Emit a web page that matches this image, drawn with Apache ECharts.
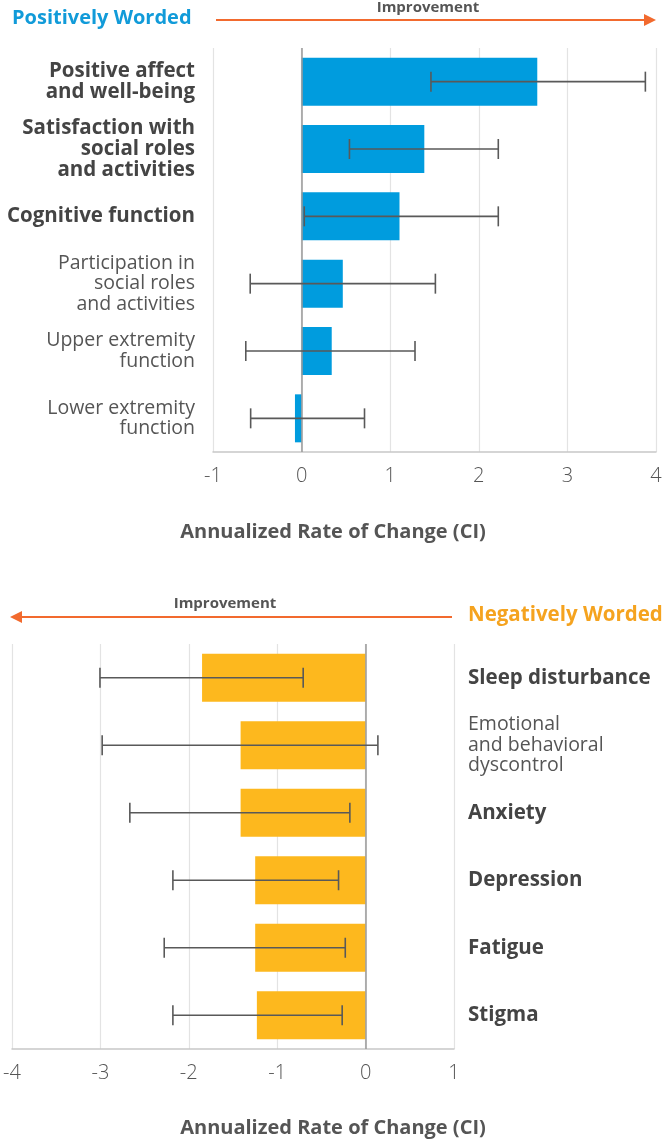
<!DOCTYPE html>
<html>
<head>
<meta charset="utf-8">
<script src="https://cdn.jsdelivr.net/npm/echarts@6/dist/echarts.min.js"></script>
<style>
html,body{margin:0;padding:0;background:#fff;}
#chart{width:671px;height:1148px;}
</style>
</head>
<body>
<div id="chart"></div>
<script>
// ---- Data ----
const posCategories = ['Positive affect\nand well-being', 'Satisfaction with\nsocial roles\nand activities', 'Cognitive function', 'Participation in\nsocial roles\nand activities', 'Upper extremity\nfunction', 'Lower extremity\nfunction'];
const posValues = [2.66, 1.385, 1.105, 0.465, 0.34, -0.075];
const posLow = [1.46, 0.54, 0.03, -0.58, -0.63, -0.575];
const posHigh = [3.88, 2.22, 2.22, 1.51, 1.28, 0.71];
const posTicks = [-1, 0, 1, 2, 3, 4];

const negCategories = ['Sleep disturbance', 'Emotional\nand behavioral\ndyscontrol', 'Anxiety', 'Depression', 'Fatigue', 'Stigma'];
const negValues = [-1.85, -1.414, -1.414, -1.249, -1.249, -1.23];
const negLow = [-3.005, -2.98, -2.667, -2.18, -2.278, -2.18];
const negHigh = [-0.706, 0.139, -0.178, -0.306, -0.23, -0.265];
const negTicks = [-4, -3, -2, -1, 0, 1];

// ---- Chart ----
const FONT = '"Open Sans", "Noto Sans", sans-serif';
const boldPos = new Set([0, 1, 2]);
const boldNeg = new Set([0, 2, 3, 4, 5]);

function richLabel(boldSet) {
  return function (value, idx) {
    const key = boldSet.has(idx) ? 'b' : 'r';
    return value.split('\n').map(l => '{' + key + '|' + l + '}').join('\n');
  };
}

function errRender(params, api) {
  const cat = api.value(0);
  const p1 = api.coord([api.value(1), cat]);
  const p2 = api.coord([api.value(2), cat]);
  const h = 10;
  const style = { stroke: '#595959', lineWidth: 1.6 };
  return {
    type: 'group',
    children: [
      { type: 'line', shape: { x1: p1[0], y1: p1[1], x2: p2[0], y2: p2[1] }, style },
      { type: 'line', shape: { x1: p1[0], y1: p1[1] - h, x2: p1[0], y2: p1[1] + h }, style },
      { type: 'line', shape: { x1: p2[0], y1: p2[1] - h, x2: p2[0], y2: p2[1] + h }, style }
    ]
  };
}

const catRich = {
  b: { fontFamily: FONT, fontSize: 20.5, fontWeight: 'bold', color: '#444', lineHeight: 21 },
  r: { fontFamily: FONT, fontSize: 19.5, fontWeight: 'normal', color: '#555', lineHeight: 20.5 }
};

function valueAxis(gridIndex, ticks) {
  return {
    type: 'value', gridIndex,
    min: ticks[0], max: ticks[ticks.length - 1], interval: 1,
    axisLine: { show: true, lineStyle: { color: '#c8c8c8', width: 1.5 } },
    axisTick: { show: false },
    splitLine: { show: true, lineStyle: { color: '#e3e3e3', width: 1.2 } },
    axisLabel: { fontFamily: FONT, fontSize: 20, fontWeight: 300, color: '#555', margin: 14 }
  };
}

const zeroLine = {
  silent: true, symbol: 'none', label: { show: false },
  lineStyle: { color: '#999', width: 1.5, type: 'solid' },
  data: [{ xAxis: 0 }]
};

const option = {
  animation: false,
  backgroundColor: '#fff',
  grid: [
    { left: 213, right: 15, top: 48, height: 404 },
    { left: 12, right: 217, top: 644, height: 405 }
  ],
  xAxis: [valueAxis(0, posTicks), valueAxis(1, negTicks)],
  yAxis: [
    {
      type: 'category', gridIndex: 0, data: posCategories, inverse: true,
      axisLine: { show: false }, axisTick: { show: false },
      axisLabel: { margin: 18, align: 'right', formatter: richLabel(boldPos), rich: catRich }
    },
    {
      type: 'category', gridIndex: 1, data: negCategories, inverse: true, position: 'right',
      axisLine: { show: false }, axisTick: { show: false },
      axisLabel: { margin: 14, align: 'left', formatter: richLabel(boldNeg), rich: catRich }
    }
  ],
  series: [
    {
      type: 'bar', xAxisIndex: 0, yAxisIndex: 0, data: posValues, barWidth: 48,
      itemStyle: { color: '#009cde' }, markLine: zeroLine, z: 2
    },
    {
      type: 'custom', xAxisIndex: 0, yAxisIndex: 0, renderItem: errRender,
      encode: { x: [1, 2], y: 0 },
      data: posCategories.map((c, i) => [i, posLow[i], posHigh[i]]), z: 5
    },
    {
      type: 'bar', xAxisIndex: 1, yAxisIndex: 1, data: negValues, barWidth: 48,
      itemStyle: { color: '#fdb81e' }, markLine: zeroLine, z: 2
    },
    {
      type: 'custom', xAxisIndex: 1, yAxisIndex: 1, renderItem: errRender,
      encode: { x: [1, 2], y: 0 },
      data: negCategories.map((c, i) => [i, negLow[i], negHigh[i]]), z: 5
    }
  ],
  graphic: [
    { type: 'text', x: 12, y: 18, style: { text: 'Positively Worded', fontFamily: FONT, fontSize: 20, fontWeight: 'bold', fill: '#119bd9', verticalAlign: 'middle' } },
    { type: 'text', x: 428, y: 8, style: { text: 'Improvement', fontFamily: FONT, fontSize: 15, fontWeight: 'bold', fill: '#555', align: 'center', verticalAlign: 'middle' } },
    { type: 'line', shape: { x1: 216, y1: 20, x2: 646, y2: 20 }, style: { stroke: '#f26a2e', lineWidth: 2 } },
    { type: 'polygon', shape: { points: [[644, 14], [656, 20], [644, 26]] }, style: { fill: '#f26a2e' } },
    { type: 'text', x: 468, y: 615, style: { text: 'Negatively Worded', fontFamily: FONT, fontSize: 20.5, fontWeight: 'bold', fill: '#f5a31f', verticalAlign: 'middle' } },
    { type: 'text', x: 225, y: 604, style: { text: 'Improvement', fontFamily: FONT, fontSize: 15, fontWeight: 'bold', fill: '#555', align: 'center', verticalAlign: 'middle' } },
    { type: 'line', shape: { x1: 20, y1: 617, x2: 452, y2: 617 }, style: { stroke: '#f26a2e', lineWidth: 2 } },
    { type: 'polygon', shape: { points: [[22, 611], [10, 617], [22, 623]] }, style: { fill: '#f26a2e' } },
    { type: 'text', x: 333, y: 532, style: { text: 'Annualized Rate of Change (CI)', fontFamily: FONT, fontSize: 20, fontWeight: 'bold', fill: '#555', align: 'center', verticalAlign: 'middle' } },
    { type: 'text', x: 333, y: 1128, style: { text: 'Annualized Rate of Change (CI)', fontFamily: FONT, fontSize: 20, fontWeight: 'bold', fill: '#555', align: 'center', verticalAlign: 'middle' } }
  ]
};

const chart = echarts.init(document.getElementById('chart'), null, { renderer: 'canvas' });
chart.setOption(option);
</script>
</body>
</html>
